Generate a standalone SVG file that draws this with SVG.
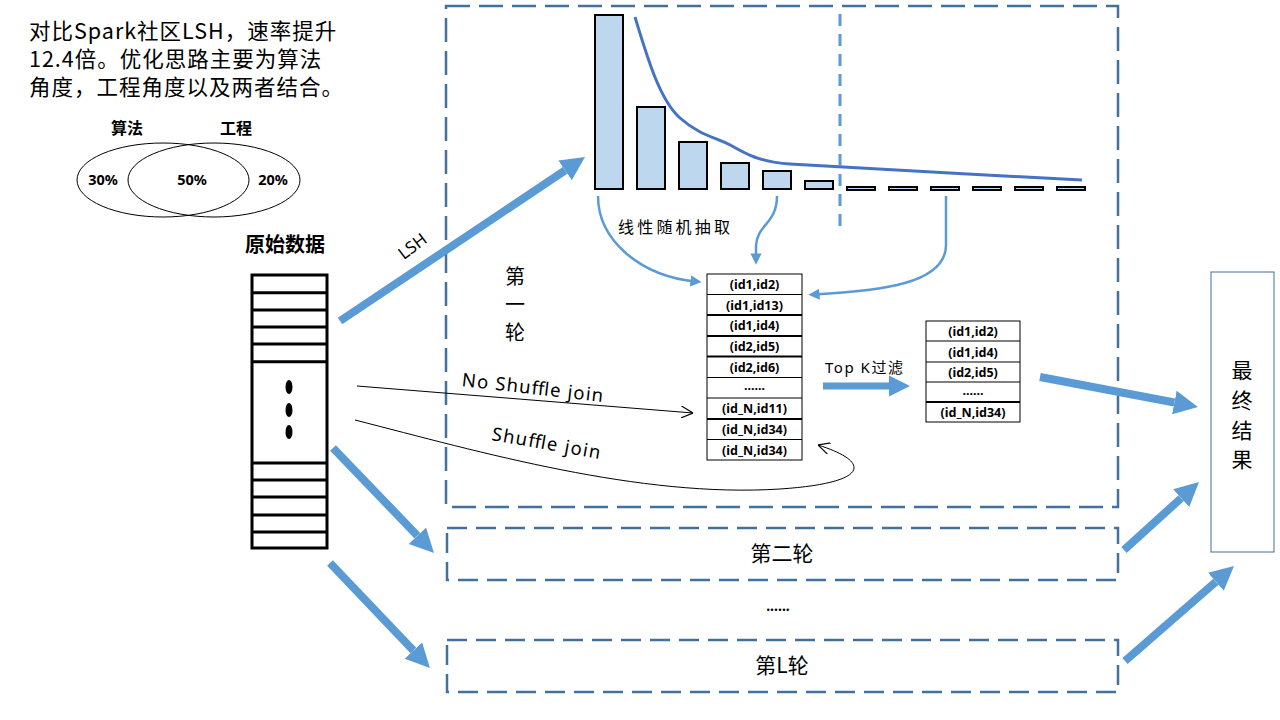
<svg xmlns="http://www.w3.org/2000/svg" width="1280" height="720" viewBox="0 0 1280 720">
<defs>
<style>
text{font-family:"Noto Sans","Noto Sans CJK SC",sans-serif;fill:#000}
.cjk{font-family:"Noto Sans CJK SC",sans-serif}
.dash{fill:none;stroke:#41719C;stroke-width:2.5;stroke-dasharray:24 9}
.dash2{fill:none;stroke:#41719C;stroke-width:2.5;stroke-dasharray:20 9}
.bar{fill:#BDD7EE;stroke:#000;stroke-width:2}
.thick{fill:none;stroke:#5B9BD5;stroke-width:8;marker-end:url(#ah)}
.thin{fill:none;stroke:#5B9BD5;stroke-width:2.5;marker-end:url(#ahs)}
.blk{fill:none;stroke:#000;stroke-width:1;marker-end:url(#open)}
.cell{fill:#fff;stroke:#000;stroke-width:1}
.tb{font-size:12.5px;font-weight:bold;text-anchor:middle}
.intro{font-size:21.5px;letter-spacing:1px}
</style>
<marker id="ah" viewBox="0 0 10 10" refX="0" refY="5" markerWidth="3" markerHeight="3.2" orient="auto" markerUnits="strokeWidth"><path d="M0,0 L10,5 L0,10 z" fill="#5B9BD5"/></marker>
<marker id="ahs" viewBox="0 0 10 10" refX="5" refY="5" markerWidth="4.5" markerHeight="4.5" orient="auto" markerUnits="strokeWidth"><path d="M0,0 L10,5 L0,10 z" fill="#5B9BD5"/></marker>
<marker id="open" viewBox="0 0 10 10" refX="10" refY="5" markerWidth="12" markerHeight="12" orient="auto" markerUnits="userSpaceOnUse"><path d="M0,0 L10,5 L0,10" fill="none" stroke="#000" stroke-width="1"/></marker>
</defs>
<rect width="1280" height="720" fill="#fff"/>

<g id="intro">
<text class="cjk intro" x="29" y="39">对比Spark社区LSH，速率提升</text>
<text class="cjk intro" x="29" y="67">12.4倍。优化思路主要为算法</text>
<text class="cjk intro" x="29" y="95">角度，工程角度以及两者结合。</text>
</g>

<g id="venn">
<ellipse cx="163" cy="180" rx="86" ry="37" fill="none" stroke="#000" stroke-width="1"/>
<ellipse cx="214" cy="180" rx="86" ry="37" fill="none" stroke="#000" stroke-width="1"/>
<text class="cjk" x="127" y="134" font-size="16" font-weight="bold" text-anchor="middle">算法</text>
<text class="cjk" x="236" y="134" font-size="16" font-weight="bold" text-anchor="middle">工程</text>
<text x="103" y="185" font-size="14.5" font-weight="bold" text-anchor="middle">30%</text>
<text x="192" y="185" font-size="14.5" font-weight="bold" text-anchor="middle">50%</text>
<text x="273" y="185" font-size="14.5" font-weight="bold" text-anchor="middle">20%</text>
</g>

<g id="raw-data">
<text class="cjk" x="285" y="252" font-size="20" font-weight="bold" text-anchor="middle">原始数据</text>
<rect x="252" y="275" width="75" height="273" fill="#fff" stroke="#000" stroke-width="3"/>
<path d="M252,292.7H327M252,310H327M252,327H327M252,344H327M252,361.7H327M252,463H327M252,480H327M252,497H327M252,515H327M252,532H327" stroke="#000" stroke-width="3"/>
<ellipse cx="289" cy="387" rx="3.5" ry="7" fill="#000"/>
<ellipse cx="289" cy="410" rx="3.5" ry="7" fill="#000"/>
<ellipse cx="289" cy="432" rx="3.5" ry="7" fill="#000"/>
</g>

<g id="round1">
<rect class="dash" x="446" y="6" width="672" height="501"/>
<text class="cjk" x="515" font-size="20" text-anchor="middle"><tspan x="515" y="284">第</tspan><tspan x="515" y="312">一</tspan><tspan x="515" y="340">轮</tspan></text>
</g>

<g id="histogram">
<rect class="bar" x="595" y="15" width="28" height="174"/>
<rect class="bar" x="637" y="107" width="28" height="82"/>
<rect class="bar" x="679" y="142" width="28" height="47"/>
<rect class="bar" x="721" y="163" width="28" height="26"/>
<rect class="bar" x="763" y="171" width="28" height="18"/>
<rect class="bar" x="805" y="181" width="28" height="8"/>
<rect class="bar" x="847" y="187" width="28" height="3"/>
<rect class="bar" x="889" y="187" width="28" height="3"/>
<rect class="bar" x="931" y="187" width="28" height="3"/>
<rect class="bar" x="973" y="187" width="28" height="3"/>
<rect class="bar" x="1015" y="187" width="28" height="3"/>
<rect class="bar" x="1057" y="187" width="28" height="3"/>
<path d="M635,17 C648,60 660,100 680,118 S718,138 732,146 S760,162 790,164 S1000,176 1082,180" fill="none" stroke="#4472C4" stroke-width="3"/>
<line x1="840" y1="14" x2="840" y2="230" stroke="#5B9BD5" stroke-width="3" stroke-dasharray="12 8"/>
<text class="cjk" x="618" y="233" font-size="16" textLength="112" lengthAdjust="spacing">线性随机抽取</text>
</g>

<g id="candidates">
<rect class="cell" x="707" y="274" width="95" height="186"/>
<path d="M707,294.5H802M707,377.5H802M707,398H802M707,439.5H802" stroke="#000" stroke-width="1"/>
<path d="M707,315H802M707,336H802M707,356.5H802M707,419H802" stroke="#000" stroke-width="2"/>
<text class="tb" x="754.5" y="289">(id1,id2)</text>
<text class="tb" x="754.5" y="310">(id1,id13)</text>
<text class="tb" x="754.5" y="330">(id1,id4)</text>
<text class="tb" x="754.5" y="351">(id2,id5)</text>
<text class="tb" x="754.5" y="372">(id2,id6)</text>
<text class="tb" x="754.5" y="390">......</text>
<text class="tb" x="754.5" y="413">(id_N,id11)</text>
<text class="tb" x="754.5" y="434">(id_N,id34)</text>
<text class="tb" x="754.5" y="455">(id_N,id34)</text>
</g>

<g id="topk">
<rect class="cell" x="926" y="321" width="94" height="101"/>
<path d="M926,341H1020M926,362H1020M926,382H1020" stroke="#000" stroke-width="1"/>
<path d="M926,402H1020" stroke="#000" stroke-width="2"/>
<text class="tb" x="973" y="336">(id1,id2)</text>
<text class="tb" x="973" y="357">(id1,id4)</text>
<text class="tb" x="973" y="377">(id2,id5)</text>
<text class="tb" x="973" y="395">......</text>
<text class="tb" x="973" y="417">(id_N,id34)</text>
</g>

<g id="round2">
<rect class="dash2" x="447" y="528" width="671" height="52"/>
<text class="cjk" x="782" y="561" font-size="21" text-anchor="middle">第二轮</text>
</g>
<g id="ellipsis">
<text x="778" y="611" font-size="14" font-weight="bold" text-anchor="middle">......</text>
</g>
<g id="roundL">
<rect class="dash2" x="447" y="640" width="671" height="52"/>
<text class="cjk" x="782" y="673" font-size="21" text-anchor="middle">第L轮</text>
</g>

<g id="result">
<rect x="1211" y="272" width="63" height="280" fill="#fff" stroke="#41719C" stroke-width="1"/>
<text class="cjk" font-size="21" text-anchor="middle"><tspan x="1242" y="378">最</tspan><tspan x="1242" y="408">终</tspan><tspan x="1242" y="438">结</tspan><tspan x="1242" y="467">果</tspan></text>
</g>

<g id="connectors">
<line class="thick" x1="340" y1="321" x2="565.1" y2="170.4"/>
<text x="413" y="252" font-size="17" text-anchor="middle" transform="rotate(-37 413 247)">LSH</text>
<line class="thick" x1="333" y1="448" x2="417.4" y2="535.7"/>
<line class="thick" x1="330" y1="563" x2="413.4" y2="650.6"/>
<line class="thick" x1="1040" y1="377" x2="1174.4" y2="402.5"/>
<line class="thick" x1="1124" y1="550" x2="1181.2" y2="498.1"/>
<line class="thick" x1="1125" y1="661" x2="1215.9" y2="581.8"/>
<line class="thick" x1="823" y1="386" x2="889" y2="386" style="stroke-width:7"/>
<text x="825" y="373" font-size="15" textLength="78" lengthAdjust="spacing">Top K过滤</text>
<path class="thin" d="M598,196 C598,240 640,276 696,281.5"/>
<path class="thin" d="M777,196 C777,224 757,224 756,246 L756,259"/>
<path class="thin" d="M946,196 L946,245 C946,284 880,291 814,294.5"/>
<path class="blk" d="M357,386 L693,413"/>
<text x="462" y="386" font-size="18.5" textLength="142" lengthAdjust="spacing" transform="rotate(6.5 462 380)">No Shuffle join</text>
<path class="blk" d="M355,420 C480,452 640,498 780,489 C870,483 872,462 818,445"/>
<text x="492" y="440" font-size="18.5" textLength="110" lengthAdjust="spacing" transform="rotate(10 492 434)">Shuffle join</text>
</g>
</svg>
